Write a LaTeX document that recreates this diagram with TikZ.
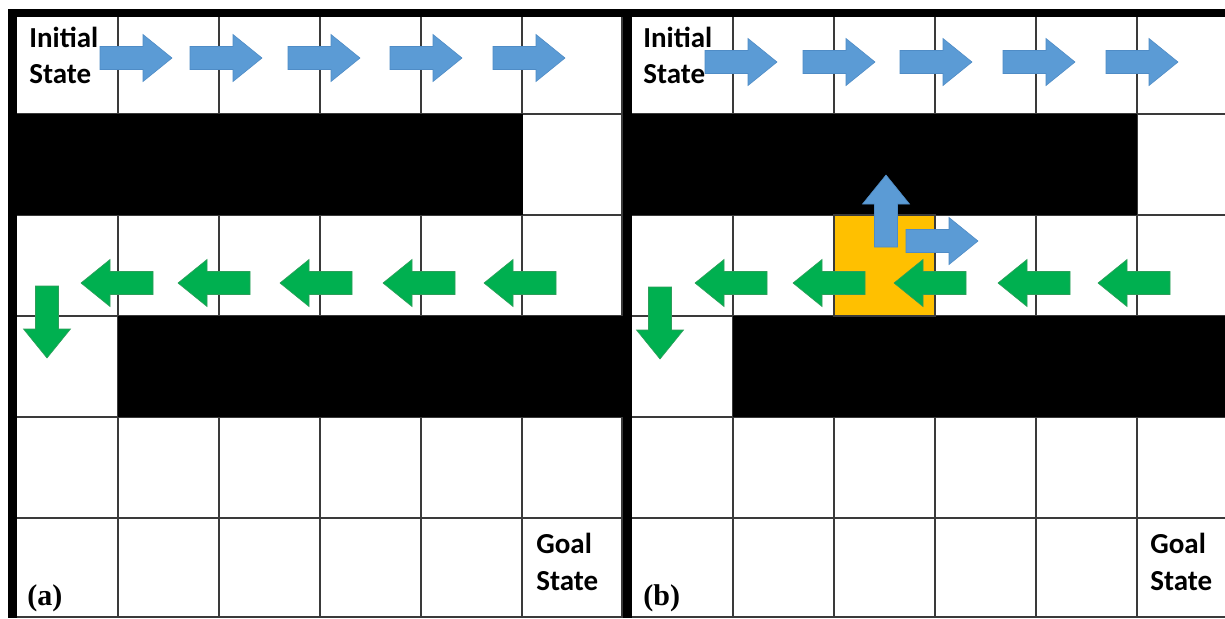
\documentclass[tikz,border=0pt]{standalone}
\usepackage{fontspec}
\newfontfamily\labelfont[Scale=1.0]{Carlito}
\newfontfamily\tagfont{Liberation Serif}
\definecolor{arrowblue}{HTML}{5B9BD5}
\definecolor{arrowblueline}{HTML}{4F8CC6}
\definecolor{arrowgreen}{HTML}{00B050}
\definecolor{arrowgreenline}{HTML}{2E9E5A}
\definecolor{cellorange}{HTML}{FFC000}
\definecolor{gridline}{HTML}{3A3A3A}
\tikzset{
  pics/blockarrow/.style={code={
    \path[pic actions] (0,-11.5) -- (43,-11.5) -- (43,-23.5) -- (72,0)
      -- (43,23.5) -- (43,11.5) -- (0,11.5) -- cycle;}},
  bluearrow/.style={fill=arrowblue, draw=arrowblueline, line width=0.3pt},
  greenarrow/.style={fill=arrowgreen, draw=arrowgreenline, line width=0.3pt},
  gridrule/.style={draw=gridline, line width=0.8pt},
  wall/.style={fill=black},
  celltext/.style={font=\labelfont\bfseries\fontsize{14.5}{17}\selectfont, anchor=base west, inner sep=0pt},
  tagtext/.style={font=\tagfont\bfseries\fontsize{15}{18}\selectfont, anchor=base west, inner sep=0pt}
}
\begin{document}
\begin{tikzpicture}[x=0.5pt, y=-0.5pt]
  \useasboundingbox (0,0) rectangle (1225,618);
  \fill[white] (0,0) rectangle (1225,618);

  % grid rules of panel (a)
  \foreach \gx in {118,219,320,421,522,622}
    \draw[gridrule] (\gx,17) -- (\gx,618);
  \foreach \gy in {114,215,316,417,518,617}
    \draw[gridrule] (17,\gy) -- (623,\gy);
  % grid rules of panel (b)
  \foreach \gx in {733,834,935,1036,1137}
    \draw[gridrule] (\gx,17) -- (\gx,618);
  \foreach \gy in {114,215,316,417,518,617}
    \draw[gridrule] (632,\gy) -- (1225,\gy);

  % walls of panel (a)
  \fill[wall] (17,114) rectangle (523,215);
  \fill[wall] (118,316) rectangle (623,417);
  % walls of panel (b)
  \fill[wall] (632,114) rectangle (1137,215);
  \fill[wall] (733,316) rectangle (1225,417);
  % highlighted cell of panel (b)
  \fill[cellorange, draw=gridline, line width=0.8pt] (834,215) rectangle (935,316);

  % outer frame and divider
  \fill[black] (8,9) rectangle (1225,17);
  \fill[black] (8,9) rectangle (17,618);
  \fill[black] (623,9) rectangle (632,618);

  % panel (a): route to the right along the top row
  \foreach \ax in {100,190,288,390,493}
    \pic[bluearrow] at (\ax,58) {blockarrow};
  % panel (a): route back to the left along the third row
  \foreach \ax in {153,250,352,455,556}
    \pic[greenarrow, rotate=180] at (\ax,283) {blockarrow};
  \pic[greenarrow, rotate=-90] at (47,286) {blockarrow};

  % panel (b): route to the right along the top row
  \foreach \ax in {705,803,900,1003,1106}
    \pic[bluearrow] at (\ax,62) {blockarrow};
  % panel (b): route back to the left along the third row
  \foreach \ax in {767,865,966,1070,1170}
    \pic[greenarrow, rotate=180] at (\ax,283) {blockarrow};
  \pic[greenarrow, rotate=-90] at (660,287) {blockarrow};
  % panel (b): alternative moves from the highlighted cell
  \pic[bluearrow, rotate=90] at (886,247) {blockarrow};
  \pic[bluearrow] at (906,241) {blockarrow};

  % labels
  \node[celltext] (initA1) at (29,47) {Initial};
  \node[celltext] (initA2) at (29,83) {State};
  \node[celltext] (goalA1) at (536,553) {Goal};
  \node[celltext] (goalA2) at (536,590) {State};
  \node[celltext] (initB1) at (643,47) {Initial};
  \node[celltext] (initB2) at (643,83) {State};
  \node[celltext] (goalB1) at (1150,553) {Goal};
  \node[celltext] (goalB2) at (1150,590) {State};
  \node[tagtext] (tagA) at (27,605) {(a)};
  \node[tagtext] (tagB) at (643,605) {(b)};
\end{tikzpicture}
\end{document}
